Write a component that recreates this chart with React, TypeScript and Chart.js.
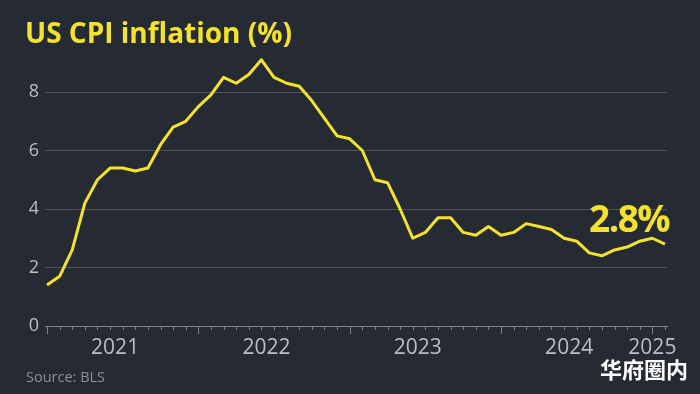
import React, { useEffect, useRef } from 'react';
import { Chart, registerables } from 'chart.js';

Chart.register(...registerables);

// Monthly US CPI inflation, year-on-year (%)
const months: string[] = [
  '2021-01', '2021-02', '2021-03', '2021-04', '2021-05', '2021-06', '2021-07', '2021-08', '2021-09', '2021-10', '2021-11', '2021-12',
  '2022-01', '2022-02', '2022-03', '2022-04', '2022-05', '2022-06', '2022-07', '2022-08', '2022-09', '2022-10', '2022-11', '2022-12',
  '2023-01', '2023-02', '2023-03', '2023-04', '2023-05', '2023-06', '2023-07', '2023-08', '2023-09', '2023-10', '2023-11', '2023-12',
  '2024-01', '2024-02', '2024-03', '2024-04', '2024-05', '2024-06', '2024-07', '2024-08', '2024-09', '2024-10', '2024-11', '2024-12',
  '2025-01', '2025-02',
];

const cpi: number[] = [
  1.4, 1.7, 2.6, 4.2, 5.0, 5.4, 5.4, 5.3, 5.4, 6.2, 6.8, 7.0,
  7.5, 7.9, 8.5, 8.3, 8.6, 9.1, 8.5, 8.3, 8.2, 7.7, 7.1, 6.5,
  6.4, 6.0, 5.0, 4.9, 4.0, 3.0, 3.2, 3.7, 3.7, 3.2, 3.1, 3.4,
  3.1, 3.2, 3.5, 3.4, 3.3, 3.0, 2.9, 2.5, 2.4, 2.6, 2.7, 2.9,
  3.0, 2.8,
];

const yearLabels: string[] = ['2021', '2022', '2023', '2024', '2025'];
const yTicks: number[] = [0, 2, 4, 6, 8];

const titleText = 'US CPI inflation (%)';
const sourceText = 'Source: BLS';
const latestText = '2.8%';
const watermarkText = '华府圈内';

const BG = '#262a33';
const YELLOW = '#f3e22e';
const LABEL = '#babec5';
const GRID = '#50545d';
const AXIS = '#7e828b';

// label position for each year: centre of a full year, first month otherwise
const yearPositions: number[] = yearLabels.map((yr) => {
  const idx = months.map((m, i) => (m.startsWith(yr) ? i : -1)).filter((i) => i >= 0);
  if (idx.length >= 12) return idx[0] + 5.4;
  return idx[0];
});

const monthTicksPlugin = {
  id: 'monthTicks',
  afterDraw(chart: any) {
    const { ctx, chartArea } = chart;
    const x = chart.scales.x;
    ctx.save();
    ctx.strokeStyle = AXIS;
    ctx.lineWidth = 1;
    months.forEach((m, i) => {
      const px = Math.round(x.getPixelForValue(i)) + 0.5;
      const long = m.endsWith('-01');
      ctx.beginPath();
      ctx.moveTo(px, chartArea.bottom);
      ctx.lineTo(px, chartArea.bottom + (long ? 8 : 4));
      ctx.stroke();
    });
    ctx.restore();
  },
};

export default function App() {
  const canvasRef = useRef<HTMLCanvasElement | null>(null);

  useEffect(() => {
    document.body.style.margin = '0';
    const canvas = canvasRef.current;
    if (!canvas) return;
    const points = cpi.map((v, i) => ({ x: i, y: v }));
    const chart = new Chart(canvas, {
      type: 'line',
      data: {
        datasets: [
          {
            data: points,
            borderColor: YELLOW,
            borderWidth: 3,
            pointRadius: 0,
            tension: 0,
            fill: false,
            borderJoinStyle: 'round',
          },
        ],
      },
      options: {
        responsive: false,
        maintainAspectRatio: false,
        animation: false,
        layout: { padding: { left: 0, right: 33, top: 54, bottom: 0 } },
        plugins: { legend: { display: false }, tooltip: { enabled: false }, title: { display: false } },
        scales: {
          x: {
            type: 'linear',
            min: -0.16,
            max: 49.16,
            afterFit: (s: any) => {
              s.height = 68;
            },
            afterBuildTicks: (s: any) => {
              s.ticks = yearPositions.map((v) => ({ value: v }));
            },
            ticks: {
              autoSkip: false,
              maxRotation: 0,
              padding: 9,
              color: LABEL,
              font: { family: 'Open Sans', size: 21 },
              callback: (_v: any, i: number) => yearLabels[i],
            },
            grid: { display: false, drawTicks: false },
            border: { display: true, color: AXIS, width: 1 },
          },
          y: {
            min: 0,
            max: 9.3,
            afterFit: (s: any) => {
              s.width = 45;
            },
            afterBuildTicks: (s: any) => {
              s.ticks = yTicks.map((v) => ({ value: v }));
            },
            ticks: {
              padding: 6,
              color: LABEL,
              font: { family: 'Open Sans', size: 18 },
              callback: (v: any) => String(v),
            },
            grid: {
              drawTicks: false,
              lineWidth: 1,
              color: (c: any) => (c.tick && c.tick.value === 0 ? 'rgba(0,0,0,0)' : GRID),
            },
            border: { display: false },
          },
        },
      },
      plugins: [monthTicksPlugin],
    });
    return () => chart.destroy();
  }, []);

  return (
    <div
      style={{
        position: 'fixed',
        left: 0,
        top: 0,
        width: 700,
        height: 394,
        background: BG,
        overflow: 'hidden',
        fontFamily: '"Open Sans", sans-serif',
      }}
    >
      <canvas ref={canvasRef} width={700} height={394} style={{ position: 'absolute', left: 0, top: 0 }} />
      <div
        style={{
          position: 'absolute',
          left: 25,
          top: 18,
          fontSize: 28,
          lineHeight: '28px',
          fontWeight: 700,
          color: YELLOW,
          whiteSpace: 'nowrap',
        }}
      >
        {titleText}
      </div>
      <div
        style={{
          position: 'absolute',
          left: 589,
          top: 199,
          fontSize: 37,
          lineHeight: '37px',
          fontWeight: 700,
          letterSpacing: '-1.5px',
          color: YELLOW,
          whiteSpace: 'nowrap',
        }}
      >
        {latestText}
      </div>
      <div
        style={{
          position: 'absolute',
          left: 26,
          top: 370,
          fontSize: 14.5,
          lineHeight: '14.5px',
          color: '#8b8f98',
          whiteSpace: 'nowrap',
        }}
      >
        {sourceText}
      </div>
      <div
        style={{
          position: 'absolute',
          left: 600,
          top: 357,
          fontSize: 22,
          lineHeight: '22px',
          fontWeight: 700,
          color: '#ffffff',
          fontFamily: '"Noto Sans CJK SC", sans-serif',
          whiteSpace: 'nowrap',
        }}
      >
        {watermarkText}
      </div>
    </div>
  );
}
